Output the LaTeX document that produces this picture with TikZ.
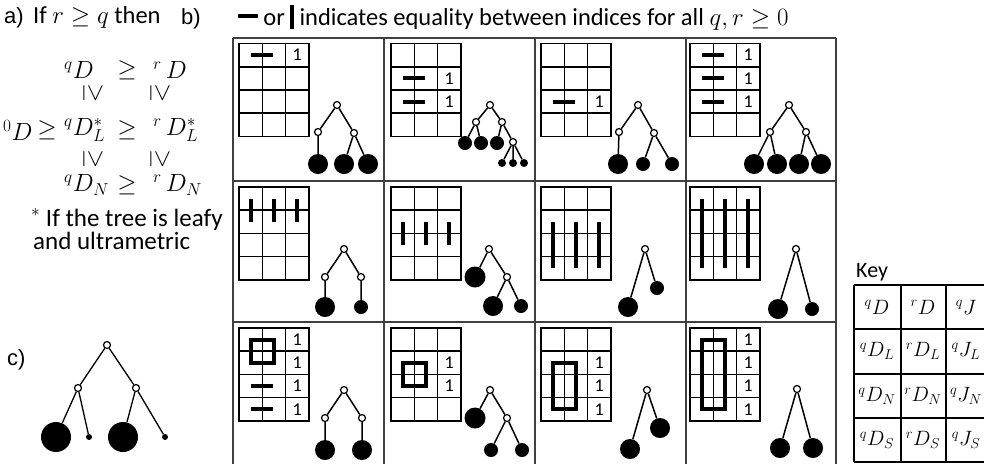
\documentclass[tikz,border=0pt]{standalone}
\usepackage{fontspec}
\setmainfont{Carlito}
\newfontfamily\arialf{Liberation Sans}
\newcommand\gridlines{\draw[gl] (0,0) rectangle (69.9,92.8) (23.3,0) -- (23.3,92.8) (46.6,0) -- (46.6,92.8) (0,23.2) -- (69.9,23.2) (0,46.4) -- (69.9,46.4) (0,69.6) -- (69.9,69.6);}
\newcommand\eqh[1]{\draw[eqm] (12.3,{11.6+23.2*#1}) -- (34.3,{11.6+23.2*#1});}
\newcommand\eqv[3]{\draw[eqm] ({11.65+23.3*#1},{11.6+23.2*#2}) -- ({11.65+23.3*#1},{11.6+23.2*#3});}
\newcommand\eqr[2]{\draw[eqm] (11.65,{11.6+23.2*#1}) rectangle (34.95,{11.6+23.2*#2});}
\newcommand\onelab[2]{\node[onest] (#1) at (58.25,{11.6+23.2*#2}) {1};}
\begin{document}
\begin{tikzpicture}[x=1pt,y=-1pt,
  frame/.style={draw=black!75, line width=1.3pt},
  gl/.style={line width=1.6pt},
  eqm/.style={line width=4pt},
  onest/.style={font=\fontsize{18}{18}\selectfont, inner sep=0pt},
  inn/.style={circle, draw, fill=white, line width=1.2pt, inner sep=0pt, minimum size=7pt},
  lf/.style={circle, fill=black, inner sep=0pt, minimum size=#1},
  te/.style={line width=1.5pt},
  lbl/.style={font=\arialf\fontsize{22}{26}\selectfont, inner sep=0pt, anchor=base west},
  txt/.style={font=\fontsize{24.5}{29}\selectfont, inner sep=0pt, anchor=base west},
  fnt/.style={font=\fontsize{25}{30}\selectfont, inner sep=0pt, anchor=base west},
  mth/.style={font=\fontsize{24}{28}\selectfont, inner sep=0pt},
  keyt/.style={font=\fontsize{21}{25}\selectfont, inner sep=0pt}
]
\useasboundingbox (0,0) rectangle (984,464);
% ---------- labels and text ----------
\node[lbl] (la) at (4,23) {a)};
\node[txt] (lif) at (33,23) {If $r\geq q$ then};
\node[lbl] (lb) at (181,24) {b)};
\node[txt] (hdr) at (238,25) {\rule[0.27em]{0.8em}{0.17em} or \rule[-0.15em]{0.15em}{0.95em} indicates equality between indices for all $q,r\geq 0$};
\node[lbl] (lc) at (7,365) {c)};
% part a
\node[mth, anchor=west] (a11) at (64,70) {${}^{q}D$};
\node[mth] (a12) at (127,70) {$\geq$};
\node[mth, anchor=west] (a13) at (153,70) {${}^{r}\,D$};
\node[mth, rotate=-90] (a21) at (93,93) {$\geq$};
\node[mth, rotate=-90] (a22) at (160,93) {$\geq$};
\node[mth, anchor=west] (a30) at (3,130) {${}^{0}D$};
\node[mth] (a31) at (47,130) {$\geq$};
\node[mth, anchor=west] (a32) at (64,130) {${}^{q}D^{*}_{L}$};
\node[mth] (a33) at (127,130) {$\geq$};
\node[mth, anchor=west] (a34) at (153,130) {${}^{r}\,D^{*}_{L}$};
\node[mth, rotate=-90] (a41) at (93,159) {$\geq$};
\node[mth, rotate=-90] (a42) at (160,159) {$\geq$};
\node[mth, anchor=west] (a51) at (64,185) {${}^{q}D_{N}$};
\node[mth] (a52) at (127,185) {$\geq$};
\node[mth, anchor=west] (a53) at (153,185) {${}^{r}\,D_{N}$};
\node[fnt] (fn1) at (31,226) {$^{*}$ If the tree is leafy};
\node[fnt] (fn2) at (33,249) {and ultrametric};
% ---------- frame ----------
\draw[frame] (233,38) -- (836,38);
\draw[frame] (233,181) -- (836,181);
\draw[frame] (233,322) -- (836,322);
\foreach \xx in {233,384,535,686,836} \draw[frame] (\xx,38) -- (\xx,464);
% ---------- grids ----------
% row 0
\begin{scope}[shift={(239,43.5)}]
\gridlines \eqh{0} \onelab{g00a}{0}
\end{scope}
\begin{scope}[shift={(391,43.5)}]
\gridlines \eqh{1} \eqh{2} \onelab{g10a}{1} \onelab{g10b}{2}
\end{scope}
\begin{scope}[shift={(541,43.5)}]
\gridlines \eqh{2} \onelab{g20a}{2}
\end{scope}
\begin{scope}[shift={(690,43.5)}]
\gridlines \eqh{0} \eqh{1} \eqh{2} \onelab{g30a}{0} \onelab{g30b}{1} \onelab{g30c}{2}
\end{scope}
% row 1
\begin{scope}[shift={(239,187)}]
\gridlines \eqv{0}{0}{1} \eqv{1}{0}{1} \eqv{2}{0}{1}
\end{scope}
\begin{scope}[shift={(391,187)}]
\gridlines \eqv{0}{1}{2} \eqv{1}{1}{2} \eqv{2}{1}{2}
\end{scope}
\begin{scope}[shift={(541,187)}]
\gridlines \eqv{0}{1}{3} \eqv{1}{1}{3} \eqv{2}{1}{3}
\end{scope}
\begin{scope}[shift={(690,187)}]
\gridlines \eqv{0}{0}{3} \eqv{1}{0}{3} \eqv{2}{0}{3}
\end{scope}
% row 2
\begin{scope}[shift={(239,328)}]
\gridlines \eqr{0}{1} \eqh{2} \eqh{3}
\onelab{g02a}{0} \onelab{g02b}{1} \onelab{g02c}{2} \onelab{g02d}{3}
\end{scope}
\begin{scope}[shift={(391,328)}]
\gridlines \eqr{1}{2} \onelab{g12a}{1} \onelab{g12b}{2}
\end{scope}
\begin{scope}[shift={(541,328)}]
\gridlines \eqr{1}{3} \onelab{g22a}{1} \onelab{g22b}{2} \onelab{g22c}{3}
\end{scope}
\begin{scope}[shift={(690,328)}]
\gridlines \eqr{0}{3} \onelab{g32a}{0} \onelab{g32b}{1} \onelab{g32c}{2} \onelab{g32d}{3}
\end{scope}
% ---------- trees ----------
% cell (0,0)
\node[inn] (a0) at (337,105) {};
\node[inn] (a1) at (318,132) {};
\node[inn] (a2) at (354,133) {};
\node[lf=20pt] (a3) at (318,164) {};
\node[lf=20pt] (a4) at (344,164) {};
\node[lf=20pt] (a5) at (368,164) {};
\draw[te] (a0)--(a1) (a0)--(a2) (a1)--(a3) (a2)--(a4) (a2)--(a5);
% cell (1,0)
\node[inn] (b0) at (490,105) {};
\node[inn] (b1) at (476,122) {};
\node[inn] (b2) at (502,122) {};
\node[lf=14pt] (b3) at (465,143) {};
\node[lf=14pt] (b4) at (481,143) {};
\node[lf=14pt] (b5) at (497,143) {};
\node[inn] (b6) at (513,142) {};
\node[lf=8pt] (b7) at (502,163) {};
\node[lf=8pt] (b8) at (513,163) {};
\node[lf=8pt] (b9) at (524,163) {};
\draw[te] (b0)--(b1) (b0)--(b2) (b1)--(b3) (b1)--(b4) (b2)--(b5) (b2)--(b6) (b6)--(b7) (b6)--(b8) (b6)--(b9);
% cell (2,0)
\node[inn] (c0) at (638,105) {};
\node[inn] (c1) at (619,132) {};
\node[inn] (c2) at (654,133) {};
\node[lf=20pt] (c3) at (618,164) {};
\node[lf=14pt] (c4) at (643,164) {};
\node[lf=14pt] (c5) at (672,164) {};
\draw[te] (c0)--(c1) (c0)--(c2) (c1)--(c3) (c2)--(c4) (c2)--(c5);
% cell (3,0)
\node[inn] (d0) at (789,105) {};
\node[inn] (d1) at (770,132) {};
\node[inn] (d2) at (806,132) {};
\node[lf=20pt] (d3) at (754,164) {};
\node[lf=20pt] (d4) at (777,164) {};
\node[lf=20pt] (d5) at (799,164) {};
\node[lf=20pt] (d6) at (821,164) {};
\draw[te] (d0)--(d1) (d0)--(d2) (d1)--(d3) (d1)--(d4) (d2)--(d5) (d2)--(d6);
% cell (0,1)
\node[inn] (e0) at (344,249) {};
\node[inn] (e1) at (325,277) {};
\node[inn] (e2) at (361,277) {};
\node[lf=20pt] (e3) at (325,307) {};
\node[lf=14pt] (e4) at (361,307) {};
\draw[te] (e0)--(e1) (e0)--(e2) (e1)--(e3) (e2)--(e4);
% cell (1,1)
\node[inn] (f0) at (489,249) {};
\node[lf=21pt] (f1) at (475,277) {};
\node[inn] (f2) at (507,277) {};
\node[lf=20pt] (f3) at (493,306) {};
\node[lf=14pt] (f4) at (521,306) {};
\draw[te] (f0)--(f1) (f0)--(f2) (f2)--(f3) (f2)--(f4);
% cell (2,1)
\node[inn] (g0) at (645,249) {};
\node[lf=20pt] (g1) at (628,307) {};
\node[lf=14pt] (g2) at (657,288) {};
\draw[te] (g0)--(g1) (g0)--(g2);
% cell (3,1)
\node[inn] (h0) at (796,249) {};
\node[lf=20pt] (h1) at (778,309) {};
\node[lf=14pt] (h2) at (812,309) {};
\draw[te] (h0)--(h1) (h0)--(h2);
% cell (0,2)
\node[inn] (i0) at (344,390) {};
\node[inn] (i1) at (325,418) {};
\node[inn] (i2) at (362,418) {};
\node[lf=20pt] (i3) at (325,450) {};
\node[lf=20pt] (i4) at (362,450) {};
\draw[te] (i0)--(i1) (i0)--(i2) (i1)--(i3) (i2)--(i4);
% cell (1,2)
\node[inn] (j0) at (490,390) {};
\node[lf=21pt] (j1) at (475,418) {};
\node[inn] (j2) at (507,418) {};
\node[lf=14pt] (j3) at (491,450) {};
\node[lf=14pt] (j4) at (522,450) {};
\draw[te] (j0)--(j1) (j0)--(j2) (j2)--(j3) (j2)--(j4);
% cell (2,2)
\node[inn] (k0) at (647,390) {};
\node[lf=20pt] (k1) at (630,449) {};
\node[lf=20pt] (k2) at (660,428) {};
\draw[te] (k0)--(k1) (k0)--(k2);
% cell (3,2)
\node[inn] (l0) at (797,389) {};
\node[lf=20pt] (l1) at (780,448) {};
\node[lf=20pt] (l2) at (813,448) {};
\draw[te] (l0)--(l1) (l0)--(l2);
% part c tree
\node[inn] (m0) at (107,345) {};
\node[inn] (m1) at (78,388) {};
\node[inn] (m2) at (136,388) {};
\node[lf=30pt] (m3) at (56,437) {};
\node[lf=6pt] (m4) at (89,437) {};
\node[lf=30pt] (m5) at (123,437) {};
\node[lf=6pt] (m6) at (165,437) {};
\draw[te, line width=1.3pt] (m0)--(m1) (m0)--(m2) (m1)--(m3) (m1)--(m4) (m2)--(m5) (m2)--(m6);
% ---------- key ----------
\node[txt, font=\fontsize{22}{26}\selectfont] (keyl) at (856,277) {Key};
\draw[line width=1.3pt] (854,285) -- (984,285) (854,329) -- (984,329) (854,374) -- (984,374) (854,418) -- (984,418) (854,462) -- (984,462)
  (854,285) -- (854,462) (901,285) -- (901,462) (946,285) -- (946,462);
\node[keyt] (k11) at (877,307) {${}^{q}D$};
\node[keyt] (k12) at (923,307) {${}^{r}D$};
\node[keyt] (k13) at (966,307) {${}^{q}J$};
\node[keyt] (k21) at (877,351) {${}^{q}D_{L}$};
\node[keyt] (k22) at (923,351) {${}^{r}D_{L}$};
\node[keyt] (k23) at (966,351) {${}^{q}J_{L}$};
\node[keyt] (k31) at (877,396) {${}^{q}D_{N}$};
\node[keyt] (k32) at (923,396) {${}^{r}D_{N}$};
\node[keyt] (k33) at (966,396) {${}^{q}J_{N}$};
\node[keyt] (k41) at (877,440) {${}^{q}D_{S}$};
\node[keyt] (k42) at (923,440) {${}^{r}D_{S}$};
\node[keyt] (k43) at (966,440) {${}^{q}J_{S}$};
\end{tikzpicture}
\end{document}
